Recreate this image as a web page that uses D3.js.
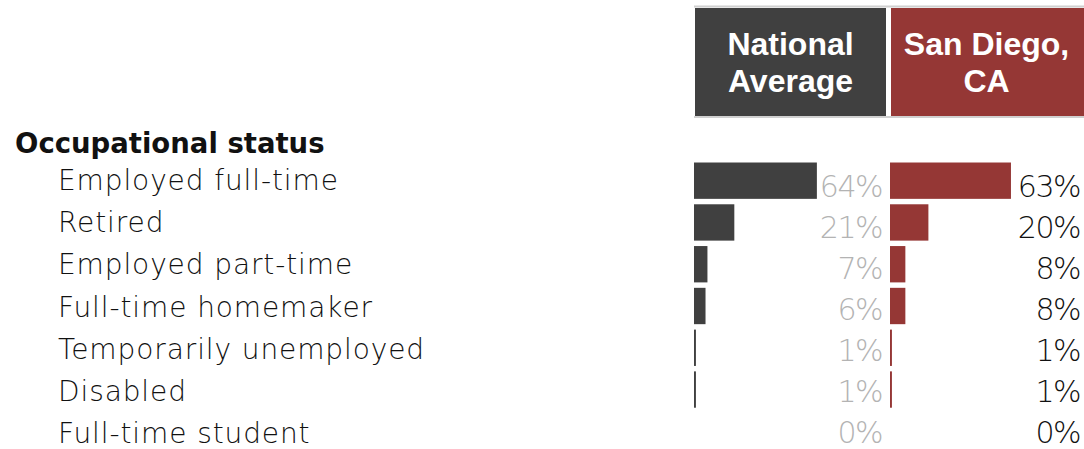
<!DOCTYPE html>
<meta charset="utf-8">
<style>
body { margin: 0; background: #fff; }
text { font-family: "DejaVu Sans", sans-serif; }
.cat { font-size: 28px; font-weight: 200; fill: #111; letter-spacing: 0.9px; }
.val { font-size: 30px; font-weight: 200; letter-spacing: -1.5px; }
.title { font-size: 27.5px; font-weight: bold; fill: #111; }
.head { font-family: "Liberation Sans", Arial, sans-serif; font-size: 32px; font-weight: bold; fill: #fff; }
</style>
<body>
<script src="https://cdn.jsdelivr.net/npm/d3@7"></script>
<script>
// data
var categories = ["Employed full-time", "Retired", "Employed part-time", "Full-time homemaker",
                  "Temporarily unemployed", "Disabled", "Full-time student"];
var national = [64, 21, 7, 6, 1, 1, 0];
var sanDiego = [63, 20, 8, 8, 1, 1, 0];
var groups = [["National", "Average"], ["San Diego,", "CA"]];
var colors = ["#404040", "#953735"];

var width = 1084, height = 449;

var svg = d3.select("body").append("svg")
    .attr("width", width)
    .attr("height", height);

// rows for bars
var y = d3.scaleBand()
    .domain(categories)
    .range([160, 452])
    .paddingInner(0.13)
    .paddingOuter(0.06);

// baselines for the row labels
var yLabel = d3.scalePoint()
    .domain(categories)
    .range([190, 443]);

// baselines for the value labels
var yVal = d3.scalePoint()
    .domain(categories)
    .range([197, 443]);

// bar length
var x = d3.scaleLinear().domain([0, 100]).range([0, 192]);

var colX = [694, 890];
var colW = 193;

// header boxes
svg.append("line").attr("x1", 694).attr("x2", 1084).attr("y1", 6.5).attr("y2", 6.5)
    .attr("stroke", "#d0d0d0").attr("stroke-width", 2);
svg.append("line").attr("x1", 694).attr("x2", 1084).attr("y1", 117).attr("y2", 117)
    .attr("stroke", "#d0d0d0").attr("stroke-width", 2);

groups.forEach(function(g, i) {
  svg.append("rect")
      .attr("x", colX[i] + 1)
      .attr("y", 8)
      .attr("width", i ? colW : colW - 2)
      .attr("height", 108)
      .attr("fill", colors[i]);
  svg.append("text")
      .attr("class", "head")
      .attr("text-anchor", "middle")
      .selectAll("tspan")
      .data(g)
    .enter().append("tspan")
      .attr("x", colX[i] + 1 + (colW - 2) / 2)
      .attr("y", (d, j) => 55 + j * 37)
      .text(d => d);
});

svg.append("text")
    .attr("class", "title")
    .attr("x", 15)
    .attr("y", 153)
    .text("Occupational status");

svg.selectAll(".cat")
    .data(categories)
  .enter().append("text")
    .attr("class", "cat")
    .attr("x", 58)
    .attr("y", d => yLabel(d))
    .text(d => d);

[national, sanDiego].forEach(function(vals, i) {
  var g = svg.append("g");
  g.selectAll("rect")
      .data(vals)
    .enter().append("rect")
      .attr("x", colX[i])
      .attr("y", (d, j) => y(categories[j]))
      .attr("height", y.bandwidth())
      .attr("width", d => x(d))
      .attr("fill", colors[i]);
  g.selectAll("text")
      .data(vals)
    .enter().append("text")
      .attr("class", "val")
      .attr("text-anchor", "end")
      .attr("x", i ? 1080 : 882)
      .attr("y", (d, j) => yVal(categories[j]))
      .style("fill", i ? "#111" : "#b3b3b3")
      .text(d => d + "%");
});
</script>
</body>
